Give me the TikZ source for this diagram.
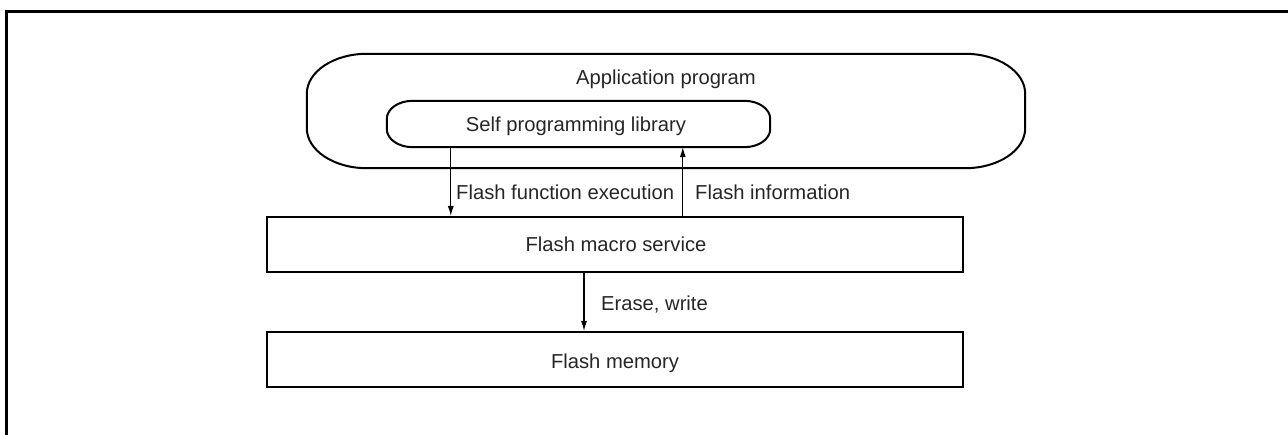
\documentclass[tikz,border=0pt]{standalone}
\usepackage{fontspec}
\setmainfont{Liberation Sans}
\usetikzlibrary{arrows.meta,calc}
\begin{document}
\begin{tikzpicture}[x=1pt,y=-1pt,
  lbl/.style={anchor=base,inner sep=0pt,font=\fontsize{20.2}{23}\selectfont,text=black!85},
  blk/.style={draw,line width=2pt,minimum width=696pt,minimum height=55pt,inner sep=0pt},
  arr/.style={line width=1.1pt,-{Latex[length=10pt,width=6pt]}},
  shapebox/.style={draw=none,inner sep=0pt}]
\useasboundingbox (0,0) rectangle (1288,435);
% frame
\draw[line width=3pt] (6.5,435) -- (6.5,12) -- (1288,12);
% outer application shape
\node[shapebox,minimum width=718pt,minimum height=114pt] (app) at (666,111) {};
\draw[line width=2pt]
  ($(app.north west)+(60,0)$) -- ($(app.north east)+(-60,0)$)
  arc[start angle=90,end angle=0,x radius=60,y radius=-40]
  -- ($(app.south east)+(0,-40)$)
  arc[start angle=0,end angle=-90,x radius=60,y radius=-40]
  -- ($(app.south west)+(60,0)$)
  arc[start angle=-90,end angle=-180,x radius=60,y radius=-40]
  -- ($(app.north west)+(0,40)$)
  arc[start angle=180,end angle=90,x radius=60,y radius=-40] -- cycle;
\node[lbl] (apptxt) at (666,85) {Application program};
% inner library shape
\node[shapebox,minimum width=383pt,minimum height=46pt] (lib) at (578.5,124) {};
\draw[line width=2pt]
  ($(lib.north west)+(26,0)$) -- ($(lib.north east)+(-26,0)$)
  arc[start angle=90,end angle=0,x radius=26,y radius=-18]
  -- ($(lib.south east)+(0,-18)$)
  arc[start angle=0,end angle=-90,x radius=26,y radius=-18]
  -- ($(lib.south west)+(26,0)$)
  arc[start angle=-90,end angle=-180,x radius=26,y radius=-18]
  -- ($(lib.north west)+(0,18)$)
  arc[start angle=180,end angle=90,x radius=26,y radius=-18] -- cycle;
\node[lbl] (libtxt) at (576,132) {Self programming library};
% boxes
\node[blk] (fms) at (615,244.5) {};
\node[lbl] at (616,252) {Flash macro service};
\node[blk] (fm) at (615,359.5) {};
\node[lbl] at (615,369) {Flash memory};
% arrows
\coordinate (a1) at ($(lib.south west)+(64,0)$);
\coordinate (a2) at ($(lib.south west)+(296,0)$);
\coordinate (a3) at ($(fms.south west)+(318,0)$);
\draw[arr] (a1) -- (a1 |- fms.north);
\draw[arr] (a2 |- fms.north) -- (a2);
\draw[arr] (a3) -- (a3 |- fm.north);
\node[lbl,anchor=base west] at (456,200) {Flash function execution};
\node[lbl,anchor=base west] at (695,200) {Flash information};
\node[lbl,anchor=base west] at (601,311) {Erase, write};
\end{tikzpicture}
\end{document}
